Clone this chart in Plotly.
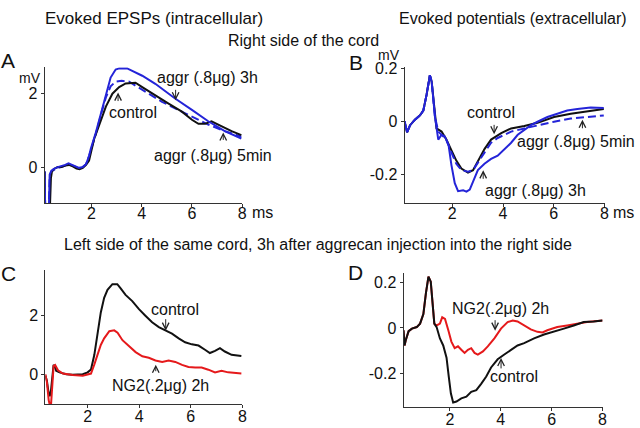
import plotly.graph_objects as go

W, H = 640, 428

# ---------------- Panel A: Evoked EPSPs, right side ----------------
a_ctrl_x = [0.13, 0.15, 0.34, 0.38, 0.42, 0.50, 0.65, 0.80, 0.95, 1.10, 1.25, 1.40, 1.52, 1.65, 1.78, 1.90, 2.10, 2.30, 2.57, 2.83, 3.10, 3.36, 3.75, 4.02, 4.54, 5.07, 5.60, 6.00, 6.26, 6.52, 6.78, 7.18, 7.58, 7.97]
a_ctrl_y = [-0.12, -1.1, -1.1, -0.3, -0.12, -0.05, 0.0, 0.0, 0.04, 0.06, 0.02, -0.04, -0.06, -0.02, 0.06, 0.18, 0.76, 1.16, 1.65, 2.0, 2.18, 2.28, 2.3, 2.18, 1.95, 1.73, 1.51, 1.29, 1.18, 1.18, 1.25, 1.11, 0.98, 0.87]

a_5min_x = [0.13, 0.15, 0.30, 0.33, 0.40, 0.50, 0.65, 0.80, 0.95, 1.08, 1.20, 1.35, 1.50, 1.65, 1.78, 1.90, 2.00, 2.17, 2.37, 2.57, 2.76, 2.96, 3.20, 3.50, 3.75, 4.28, 4.81, 5.33, 6.00, 6.65, 7.31, 7.97]
a_5min_y = [-0.12, -1.1, -1.1, -0.25, -0.12, -0.08, -0.02, 0.0, 0.04, 0.08, 0.05, 0.0, -0.03, 0.0, 0.08, 0.3, 0.5, 0.9, 1.42, 1.9, 2.2, 2.33, 2.35, 2.33, 2.22, 2.0, 1.78, 1.6, 1.38, 1.16, 0.98, 0.83]

a_3h_x = [0.13, 0.15, 0.30, 0.33, 0.40, 0.50, 0.65, 0.80, 0.95, 1.08, 1.20, 1.35, 1.50, 1.65, 1.78, 1.90, 1.97, 2.17, 2.37, 2.57, 2.76, 2.96, 3.10, 3.42, 3.75, 4.02, 4.54, 5.33, 6.00, 6.65, 7.31, 7.97]
a_3h_y = [-0.12, -1.1, -1.1, -0.2, -0.1, -0.05, 0.0, 0.02, 0.06, 0.1, 0.07, 0.02, -0.02, 0.0, 0.08, 0.3, 0.5, 0.94, 1.47, 2.0, 2.44, 2.66, 2.69, 2.69, 2.57, 2.49, 2.27, 1.87, 1.56, 1.25, 0.98, 0.78]

# ---------------- Panel B: Evoked potentials, right side ----------------
b_start_x = [0.12, 0.16, 0.22, 0.34, 0.53, 0.73, 0.86, 0.99, 1.06, 1.12, 1.19, 1.25, 1.32]
b_start_y = [0.0, -0.02, -0.042, -0.015, 0.006, 0.022, 0.04, 0.10, 0.14, 0.173, 0.149, 0.088, 0.016]

b_ctrl_x = b_start_x + [1.38, 1.58, 1.77, 1.97, 2.16, 2.36, 2.62, 2.82, 3.01, 3.27, 3.53, 3.93, 4.32, 4.84, 5.36, 6.01, 6.67, 7.45, 7.97]
b_ctrl_y = b_start_y + [-0.027, -0.039, -0.069, -0.11, -0.148, -0.178, -0.193, -0.184, -0.148, -0.105, -0.069, -0.045, -0.027, -0.018, -0.006, 0.016, 0.028, 0.04, 0.046]

b_5min_x = b_start_x + [1.45, 1.77, 1.97, 2.16, 2.36, 2.62, 2.82, 3.01, 3.27, 3.53, 3.79, 4.06, 4.32, 4.84, 5.36, 6.01, 6.67, 7.45, 7.97]
b_5min_y = b_start_y + [-0.039, -0.069, -0.118, -0.16, -0.184, -0.19, -0.184, -0.154, -0.118, -0.081, -0.063, -0.051, -0.039, -0.027, -0.015, -0.002, 0.01, 0.018, 0.022]

b_3h_x = b_start_x + [1.45, 1.58, 1.71, 1.86, 1.97, 2.10, 2.23, 2.43, 2.56, 2.69, 2.82, 3.01, 3.27, 3.53, 3.79, 4.06, 4.32, 4.58, 4.84, 5.10, 5.36, 5.75, 6.14, 6.53, 6.93, 7.45, 7.97]
b_3h_y = b_start_y + [-0.069, -0.051, -0.057, -0.093, -0.166, -0.233, -0.263, -0.26, -0.265, -0.257, -0.227, -0.184, -0.16, -0.142, -0.13, -0.105, -0.081, -0.051, -0.033, -0.015, -0.002, 0.016, 0.028, 0.04, 0.046, 0.052, 0.05]

# ---------------- Panel C: EPSPs, left side ----------------
c_ctrl_x = [0.36, 0.42, 0.49, 0.53, 0.58, 0.63, 0.68, 0.73, 0.78, 0.91, 1.17, 1.42, 1.81, 2.0, 2.13, 2.26, 2.38, 2.51, 2.64, 2.77, 2.96, 3.15, 3.28, 3.47, 3.73, 3.99, 4.24, 4.5, 4.76, 5.01, 5.27, 5.53, 5.78, 6.04, 6.3, 6.55, 6.74, 6.94, 7.13, 7.32, 7.58, 7.96]
c_ctrl_y = [-0.03, -0.2, -0.63, -0.72, -0.52, -0.09, 0.33, 0.29, 0.13, 0.08, 0.02, 0.0, 0.02, 0.08, 0.18, 0.67, 1.38, 2.09, 2.58, 2.85, 3.04, 3.04, 2.9, 2.68, 2.47, 2.2, 1.98, 1.76, 1.6, 1.49, 1.38, 1.22, 1.09, 1.02, 0.98, 0.84, 0.73, 0.8, 0.89, 0.78, 0.67, 0.63]

c_ng2_x = [0.36, 0.42, 0.49, 0.53, 0.58, 0.62, 0.68, 0.74, 0.85, 1.04, 1.42, 1.81, 2.0, 2.13, 2.26, 2.39, 2.51, 2.64, 2.84, 3.03, 3.16, 3.35, 3.6, 3.86, 4.12, 4.37, 4.63, 4.89, 5.14, 5.4, 5.66, 5.91, 6.17, 6.42, 6.68, 6.94, 7.19, 7.45, 7.96]
c_ng2_y = [0.02, -0.25, -0.85, -1.01, -1.01, -0.3, 0.29, 0.33, 0.15, 0.04, -0.01, -0.03, 0.0, 0.04, 0.35, 0.67, 1.0, 1.22, 1.46, 1.49, 1.41, 1.16, 0.98, 0.76, 0.62, 0.57, 0.48, 0.43, 0.48, 0.43, 0.33, 0.26, 0.24, 0.24, 0.17, 0.08, 0.13, 0.08, 0.04]

# ---------------- Panel D: extracellular, left side ----------------
d_start_x = [0.18, 0.22, 0.27, 0.38, 0.51, 0.70, 0.83, 0.96, 1.06, 1.16, 1.25, 1.32, 1.39]
d_start_y = [-0.01, -0.077, -0.053, -0.014, -0.003, 0.004, 0.019, 0.061, 0.154, 0.226, 0.204, 0.111, 0.019]

d_ctrl_x = d_start_x + [1.48, 1.61, 1.74, 1.87, 1.96, 2.04, 2.13, 2.26, 2.45, 2.65, 2.84, 3.04, 3.23, 3.43, 3.62, 3.88, 4.14, 4.40, 4.66, 4.92, 5.31, 5.70, 6.09, 6.48, 6.87, 7.26, 7.65, 8.0]
d_ctrl_y = d_start_y + [0.004, -0.046, -0.077, -0.131, -0.217, -0.288, -0.328, -0.324, -0.31, -0.303, -0.281, -0.274, -0.246, -0.214, -0.174, -0.138, -0.117, -0.096, -0.077, -0.067, -0.046, -0.029, -0.017, -0.003, 0.011, 0.026, 0.029, 0.033]

d_ng2_x = d_start_x + [1.48, 1.61, 1.70, 1.81, 1.94, 2.06, 2.19, 2.32, 2.45, 2.58, 2.71, 2.84, 2.97, 3.10, 3.30, 3.49, 3.75, 4.01, 4.27, 4.47, 4.66, 4.92, 5.18, 5.44, 5.64, 5.83, 6.22, 6.61, 7.0, 7.39, 8.0]
d_ng2_y = d_start_y + [0.011, 0.019, 0.047, 0.04, -0.01, -0.06, -0.089, -0.081, -0.096, -0.11, -0.096, -0.089, -0.11, -0.117, -0.103, -0.081, -0.046, -0.003, 0.026, 0.033, 0.029, 0.011, -0.006, -0.017, -0.02, -0.01, 0.004, 0.011, 0.019, 0.026, 0.033]

x_ticks = [2, 4, 6, 8]

BLACK = "#111111"
BLUE = "#2424d8"
RED = "#e5191b"
FONT = "Liberation Sans, Arial, sans-serif"

fig = go.Figure()

def line(x, y, color, xa, ya, dash="solid", width=2):
    fig.add_trace(go.Scatter(x=x, y=y, mode="lines", xaxis=xa, yaxis=ya,
                             line=dict(color=color, width=width, dash=dash),
                             showlegend=False, hoverinfo="skip"))

line(a_5min_x, a_5min_y, BLUE, "x", "y", dash="8px,4px")
line(a_ctrl_x, a_ctrl_y, BLACK, "x", "y")
line(a_3h_x, a_3h_y, BLUE, "x", "y")

line(b_ctrl_x, b_ctrl_y, BLACK, "x2", "y2")
line(b_5min_x, b_5min_y, BLUE, "x2", "y2", dash="8px,4px")
line(b_3h_x, b_3h_y, BLUE, "x2", "y2")

line(c_ctrl_x, c_ctrl_y, BLACK, "x3", "y3")
line(c_ng2_x, c_ng2_y, RED, "x3", "y3")

line(d_ng2_x, d_ng2_y, RED, "x4", "y4")
line(d_ctrl_x, d_ctrl_y, BLACK, "x4", "y4")

def xaxis(dom, rng, anchor, standoff):
    return dict(domain=dom, range=rng, anchor=anchor, showline=True, linecolor="#333",
                linewidth=1, ticks="outside", ticklen=3, tickcolor="#333",
                tickvals=x_ticks, showgrid=False, zeroline=False,
                ticklabelstandoff=standoff,
                tickfont=dict(size=16, color=BLACK, family=FONT))

def yaxis(dom, rng, anchor, tv, tt):
    return dict(domain=dom, range=rng, anchor=anchor, showline=True, linecolor="#333",
                linewidth=1, ticks="outside", ticklen=3, tickcolor="#333",
                tickvals=tv, ticktext=tt, showgrid=False, zeroline=False,
                tickfont=dict(size=16, color=BLACK, family=FONT))

fig.update_layout(
    width=W, height=H, margin=dict(l=0, r=0, t=0, b=0),
    paper_bgcolor="white", plot_bgcolor="white",
    font=dict(family=FONT, color=BLACK, size=16),
    xaxis=xaxis([45/W, 244/W], [0.13, 8.0], "y", -7),
    yaxis=yaxis([1-200.7/H, 1-61/H], [-0.98, 2.72], "x", [0, 2], ["0", "2"]),
    xaxis2=xaxis([407.7/W, 609.3/W], [0.12, 8.0], "y2", -7),
    yaxis2=yaxis([1-200.7/H, 1-61/H], [-0.308, 0.203], "x2", [-0.2, 0, 0.2], ["-0.2", "0", "0.2"]),
    xaxis3=xaxis([45.7/W, 244.3/W], [0.36, 8.0], "y3", -5),
    yaxis3=yaxis([1-407.7/H, 1-270/H], [-0.99, 3.5], "x3", [0, 2], ["0", "2"]),
    xaxis4=xaxis([406.7/W, 607.3/W], [0.18, 8.0], "y4", -5),
    yaxis4=yaxis([1-410/H, 1-272.7/H], [-0.346, 0.242], "x4", [-0.2, 0, 0.2], ["-0.2", "0", "0.2"]),
)

ann = []

def txt(text, px, py, size=16, xanchor="center"):
    ann.append(dict(text=text, x=px/W, y=1-py/H, xref="paper", yref="paper",
                    showarrow=False, xanchor=xanchor, yanchor="middle",
                    font=dict(size=size, color=BLACK, family=FONT)))

def arrow(px, tail_py, tip_py):
    ann.append(dict(text="", x=px/W, y=1-tip_py/H, xref="paper", yref="paper",
                    ax=0, ay=tail_py - tip_py, axref="pixel", ayref="pixel",
                    showarrow=True, arrowhead=5, arrowsize=1.3, arrowwidth=1,
                    arrowcolor="#222"))

# headings
txt("Evoked EPSPs (intracellular)", 155, 11, size=17)
txt("Evoked potentials (extracellular)", 517, 11)
txt("Right side of the cord", 306, 33)
txt("Left side of the same cord, 3h after aggrecan injection into the right side", 320, 243)

# panel letters
txt("A", 8, 54, size=21)
txt("B", 359, 56, size=21)
txt("C", 9, 273, size=21)
txt("D", 358, 272, size=21)

# units
txt("mV", 30, 72, size=14)
txt("mV", 392, 48, size=14)
txt("ms", 252, 210, xanchor="left")
txt("ms", 616, 210, xanchor="left")

# panel A labels
txt("aggr (.8μg) 3h", 209.5, 72)
arrow(177, 83, 95)
txt("control", 134, 107)
arrow(119, 97, 87)
txt("aggr (.8μg) 5min", 214.5, 152)
arrow(225, 137, 128)

# panel B labels
txt("control", 495, 108)
arrow(498, 119, 130)
txt("aggr (.8μg) 5min", 581, 137)
arrow(587, 125, 115)
txt("aggr (.8μg) 3h", 540, 188)
arrow(487, 177, 167)

# panel C labels
txt("control", 176, 310)
arrow(167, 319, 332)
txt("NG2(.2μg) 2h", 161.5, 388)
arrow(157, 375, 367)

# panel D labels
txt("NG2(.2μg) 2h", 504, 309)
arrow(499, 320, 332)
txt("control", 518.5, 379)
arrow(505, 372, 360)

fig.update_layout(annotations=ann)

fig.write_html("out.html", config={"displayModeBar": False},
               post_script="document.body.style.margin='0';document.body.style.padding='0';document.body.style.overflow='hidden';")
